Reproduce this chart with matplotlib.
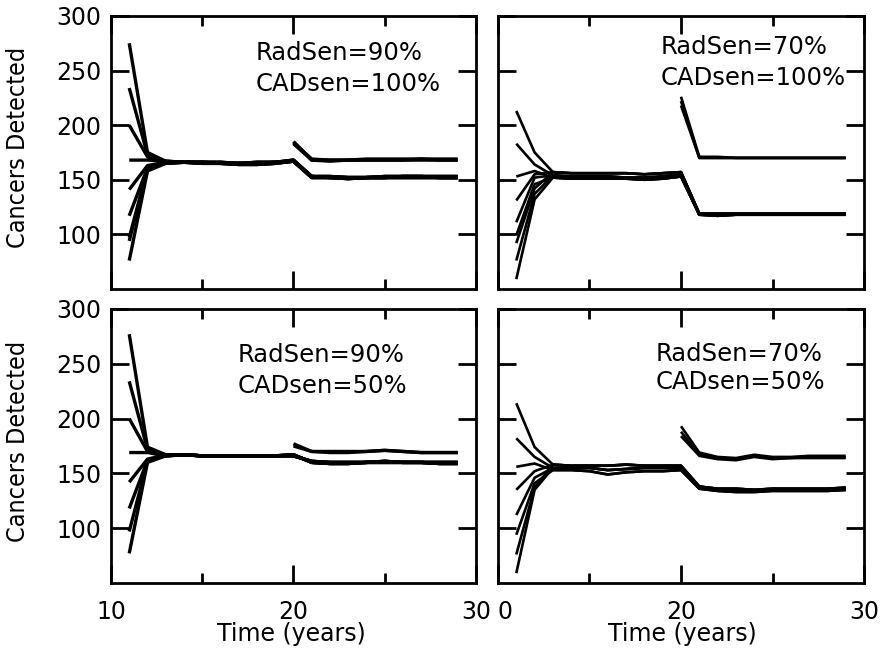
import matplotlib
matplotlib.use("Agg")
import matplotlib.pyplot as plt

plt.rcParams['font.family'] = ['DejaVu Sans']

# simulation years
years = [11, 12, 13, 14, 15, 16, 17, 18, 19, 20, 21, 22, 23, 24, 25, 26, 27, 28, 29]
cad_years = [20, 21, 22, 23, 24, 25, 26, 27, 28, 29]

# --- RadSen=90%, CADsen=100% ---
tl_start = [275, 234, 200, 168, 141, 117, 97, 94, 76]          # year 11
tl_second = [175, 173, 171, 168, 163, 161, 160, 159, 158]      # year 12
tl_rest = [                                                     # years 13-29
    [167, 166, 166, 166, 165, 165, 166, 167, 153, 152, 152, 152, 153, 153, 153, 152, 152],
    [166, 166, 165, 165, 164, 164, 165, 167, 152, 152, 151, 152, 152, 152, 152, 152, 152],
    [165, 166, 166, 165, 165, 166, 166, 168, 153, 153, 152, 152, 152, 153, 153, 153, 153],
]
tl_cad = [
    [185, 168, 168, 168, 168, 168, 168, 169, 168, 168],
    [184, 169, 168, 168, 169, 169, 169, 169, 169, 169],
    [183, 168, 167, 168, 168, 168, 168, 168, 168, 168],
]

# --- RadSen=70%, CADsen=100% ---
tr_start = [213, 183, 153, 131, 111, 99, 92, 76, 59]
tr_second = [175, 164, 158, 155, 152, 146, 142, 137, 132]
tr_rest = [
    [157, 156, 156, 156, 156, 155, 156, 157, 119, 119, 119, 119, 119, 119, 119, 119, 119],
    [154, 153, 153, 153, 152, 152, 153, 155, 118, 118, 118, 118, 118, 118, 118, 118, 118],
    [152, 151, 151, 151, 151, 150, 151, 153, 118, 117, 118, 118, 118, 118, 118, 118, 118],
]
tr_cad = [
    [226, 171, 171, 170, 170, 170, 170, 170, 170, 170],
    [222, 170, 170, 170, 170, 170, 170, 170, 170, 170],
    [218, 170, 170, 170, 170, 170, 170, 170, 170, 170],
]

# --- RadSen=90%, CADsen=50% ---
bl_start = [277, 234, 200, 169, 142, 118, 97, 77]
bl_second = [174, 172, 170, 169, 163, 162, 161, 160]
bl_rest = [
    [167, 167, 166, 166, 166, 166, 166, 167, 160, 159, 159, 160, 160, 160, 160, 159, 159],
    [166, 167, 166, 166, 166, 166, 166, 166, 161, 160, 160, 160, 161, 160, 160, 160, 160],
]
bl_cad = [
    [177, 170, 169, 169, 170, 171, 170, 169, 169, 169],
    [175, 170, 170, 170, 170, 171, 170, 169, 169, 169],
]

# --- RadSen=70%, CADsen=50% ---
br_start = [214, 182, 156, 135, 112, 94, 76, 59]
br_second = [174, 165, 159, 152, 146, 141, 137, 135]
br_rest = [
    [158, 157, 157, 157, 158, 157, 157, 157, 138, 136, 136, 135, 136, 136, 136, 136, 137],
    [155, 155, 155, 153, 154, 155, 155, 155, 137, 135, 134, 134, 135, 135, 135, 135, 135],
    [153, 153, 152, 149, 151, 152, 152, 153, 136, 134, 133, 133, 134, 134, 134, 134, 135],
]
br_cad = [
    [193, 169, 165, 164, 167, 165, 165, 166, 166, 166],
    [188, 167, 164, 163, 166, 164, 164, 165, 165, 165],
    [184, 166, 163, 162, 165, 163, 164, 164, 164, 164],
]

labels = ["RadSen=90%\nCADsen=100%", "RadSen=70%\nCADsen=100%",
          "RadSen=90%\nCADsen=50%", "RadSen=70%\nCADsen=50%"]
yticks = [100, 150, 200, 250, 300]
left_xticklabels = ["10", "20", "30"]
right_xticklabels = ["0", "20", "30"]

FS = 17

fig = plt.figure(figsize=(8.85, 6.56), dpi=100)
ax_tl = fig.add_axes([0.1254, 0.5595, 0.4124, 0.4162])
ax_tr = fig.add_axes([0.5627, 0.5595, 0.4136, 0.4162])
ax_bl = fig.add_axes([0.1254, 0.1113, 0.4124, 0.4177])
ax_br = fig.add_axes([0.5627, 0.1113, 0.4136, 0.4177])

panels = [
    (ax_tl, tl_start, tl_second, tl_rest, tl_cad, 2.4),
    (ax_tr, tr_start, tr_second, tr_rest, tr_cad, 1.9),
    (ax_bl, bl_start, bl_second, bl_rest, bl_cad, 2.4),
    (ax_br, br_start, br_second, br_rest, br_cad, 1.9),
]

for i, (ax, start, second, rest, cad, lw) in enumerate(panels):
    for k in range(len(start)):
        run = [start[k], second[k]] + rest[k % len(rest)]
        ax.plot(years, run, color="black", lw=lw, solid_capstyle="butt")
    for c in cad:
        ax.plot(cad_years, c, color="black", lw=lw, solid_capstyle="butt")

    ax.set_xlim(10, 30)
    ax.set_ylim(50, 300)
    ax.set_xticks([10, 20, 30])
    ax.set_xticks([15, 25], minor=True)
    ax.set_yticks(yticks)
    ax.tick_params(which="both", direction="in", top=True, right=True, width=2,
                   labelsize=FS, pad=7)
    ax.tick_params(which="major", length=13)
    ax.tick_params(which="minor", length=7)
    ax.tick_params(axis="x", pad=12)
    for s in ax.spines.values():
        s.set_linewidth(2)

# y labels only on the left column
for ax in (ax_tl, ax_bl):
    ax.set_ylabel("Cancers Detected", fontsize=18, fontstretch="condensed")
for ax in (ax_tr, ax_br):
    ax.tick_params(labelleft=False)
ax_tl.yaxis.set_label_coords(-0.222, 0.52)
ax_bl.yaxis.set_label_coords(-0.222, 0.516)

# x labels only on the bottom row
for ax in (ax_tl, ax_tr):
    ax.tick_params(labelbottom=False)
ax_bl.set_xticklabels(left_xticklabels)
ax_br.set_xticklabels(right_xticklabels)
ax_br.get_xticklabels()[0].set_horizontalalignment("left")
for ax, xc in ((ax_bl, 0.493), (ax_br, 0.503)):
    ax.set_xlabel("Time (years)", fontsize=FS)
    ax.xaxis.set_label_coords(xc, -0.143)

# scenario annotations
text_pos = [(0.397, 0.908, 1.35), (0.443, 0.93, 1.35), (0.348, 0.875, 1.35), (0.432, 0.88, 1.2)]
for ax, lab, (tx, ty, ls) in zip((ax_tl, ax_tr, ax_bl, ax_br), labels, text_pos):
    ax.text(tx, ty, lab, transform=ax.transAxes, ha="left", va="top",
            fontsize=17.5, linespacing=ls)

fig.savefig("out.png", dpi=100)
